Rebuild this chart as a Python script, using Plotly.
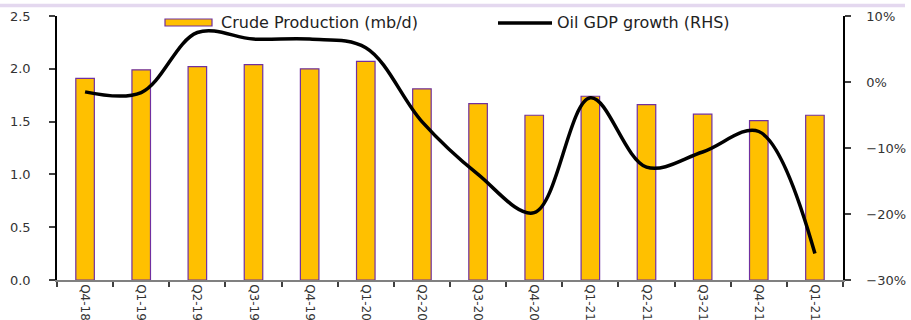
import plotly.graph_objects as go

quarters = ["Q4-18", "Q1-19", "Q2-19", "Q3-19", "Q4-19", "Q1-20", "Q2-20",
            "Q3-20", "Q4-20", "Q1-21", "Q2-21", "Q3-21", "Q4-21", "Q1-21"]
crude_production = [1.91, 1.99, 2.02, 2.04, 2.00, 2.07, 1.81,
                    1.67, 1.56, 1.74, 1.66, 1.57, 1.51, 1.56]
oil_gdp_growth = [-1.5, -1.6, 7.5, 6.5, 6.5, 5.2, -6.0,
                  -14.0, -19.8, -2.4, -12.9, -10.6, -7.5, -26.0]

x = list(range(len(quarters)))
FONT = "DejaVu Sans"

fig = go.Figure()
fig.add_trace(go.Bar(
    x=x, y=crude_production, name="Crude Production (mb/d)",
    marker=dict(color="#FFC000", line=dict(color="#7030A0", width=1.2)),
    width=0.33, showlegend=False, yaxis="y"))
fig.add_trace(go.Scatter(
    x=x, y=oil_gdp_growth, name="Oil GDP growth (RHS)", mode="lines",
    line=dict(color="black", width=3.5, shape="spline", smoothing=1.0),
    showlegend=False, yaxis="y2"))

fig.update_layout(
    width=911, height=320,
    margin=dict(l=57, r=68, t=16, b=40),
    paper_bgcolor="white", plot_bgcolor="white",
    font=dict(family=FONT, color="#222222"),
    xaxis=dict(
        range=[-0.5, len(quarters) - 0.5], tickmode="array", tickvals=x,
        ticktext=quarters, tickangle=90, ticks="", showgrid=False,
        zeroline=False, showline=True, linecolor="#808080", linewidth=1.5,
        tickfont=dict(size=12, color="#333333"), automargin=False,
        minor=dict(tickmode="array",
                   tickvals=[i - 0.5 for i in range(len(quarters) + 1)],
                   ticks="outside", ticklen=5, tickcolor="#404040",
                   tickwidth=1.5, showgrid=False)),
    yaxis=dict(
        range=[0, 2.5], dtick=0.5, tickformat=".1f", showgrid=False,
        zeroline=False, showline=True, linecolor="black", linewidth=1.5,
        ticks="outside", ticklen=6, tickcolor="#404040", tickwidth=1.5,
        tickfont=dict(size=13, color="#333333"), ticklabelstandoff=16,
        automargin=False),
    yaxis2=dict(
        range=[-30, 10], dtick=10, ticksuffix="%", overlaying="y",
        side="right", showgrid=False, zeroline=False, showline=True,
        linecolor="black", linewidth=1.5, ticks="outside", ticklen=6,
        tickcolor="#404040", tickwidth=1.5,
        tickfont=dict(size=13, color="#333333"), ticklabelstandoff=13,
        automargin=False),
)

# lavender band from the (cut-off) title area
fig.add_shape(type="line", xref="paper", yref="paper",
              x0=-57 / 786, x1=(905 - 57) / 786,
              y0=(280 - 5.5) / 264, y1=(280 - 5.5) / 264,
              line=dict(color="#E4D8EF", width=3.5))

# manual legend
def px_x(p):
    return (p - 57) / 786

def px_y(p):
    return (280 - p) / 264

fig.add_shape(type="rect", xref="paper", yref="paper",
              x0=px_x(165), x1=px_x(212), y0=px_y(26), y1=px_y(19),
              fillcolor="#FFC000", line=dict(color="#7030A0", width=1.2))
fig.add_annotation(xref="paper", yref="paper", x=px_x(219), y=px_y(22.5),
                   text="Crude Production (mb/d)", showarrow=False,
                   xanchor="left", yanchor="middle",
                   font=dict(family=FONT, size=16, color="#222222"))
fig.add_shape(type="line", xref="paper", yref="paper",
              x0=px_x(498), x1=px_x(552), y0=px_y(23), y1=px_y(23),
              line=dict(color="black", width=3.5))
fig.add_annotation(xref="paper", yref="paper", x=px_x(555), y=px_y(22.5),
                   text="Oil GDP growth (RHS)", showarrow=False,
                   xanchor="left", yanchor="middle",
                   font=dict(family=FONT, size=16, color="#222222"))

fig.write_html("out.html")
